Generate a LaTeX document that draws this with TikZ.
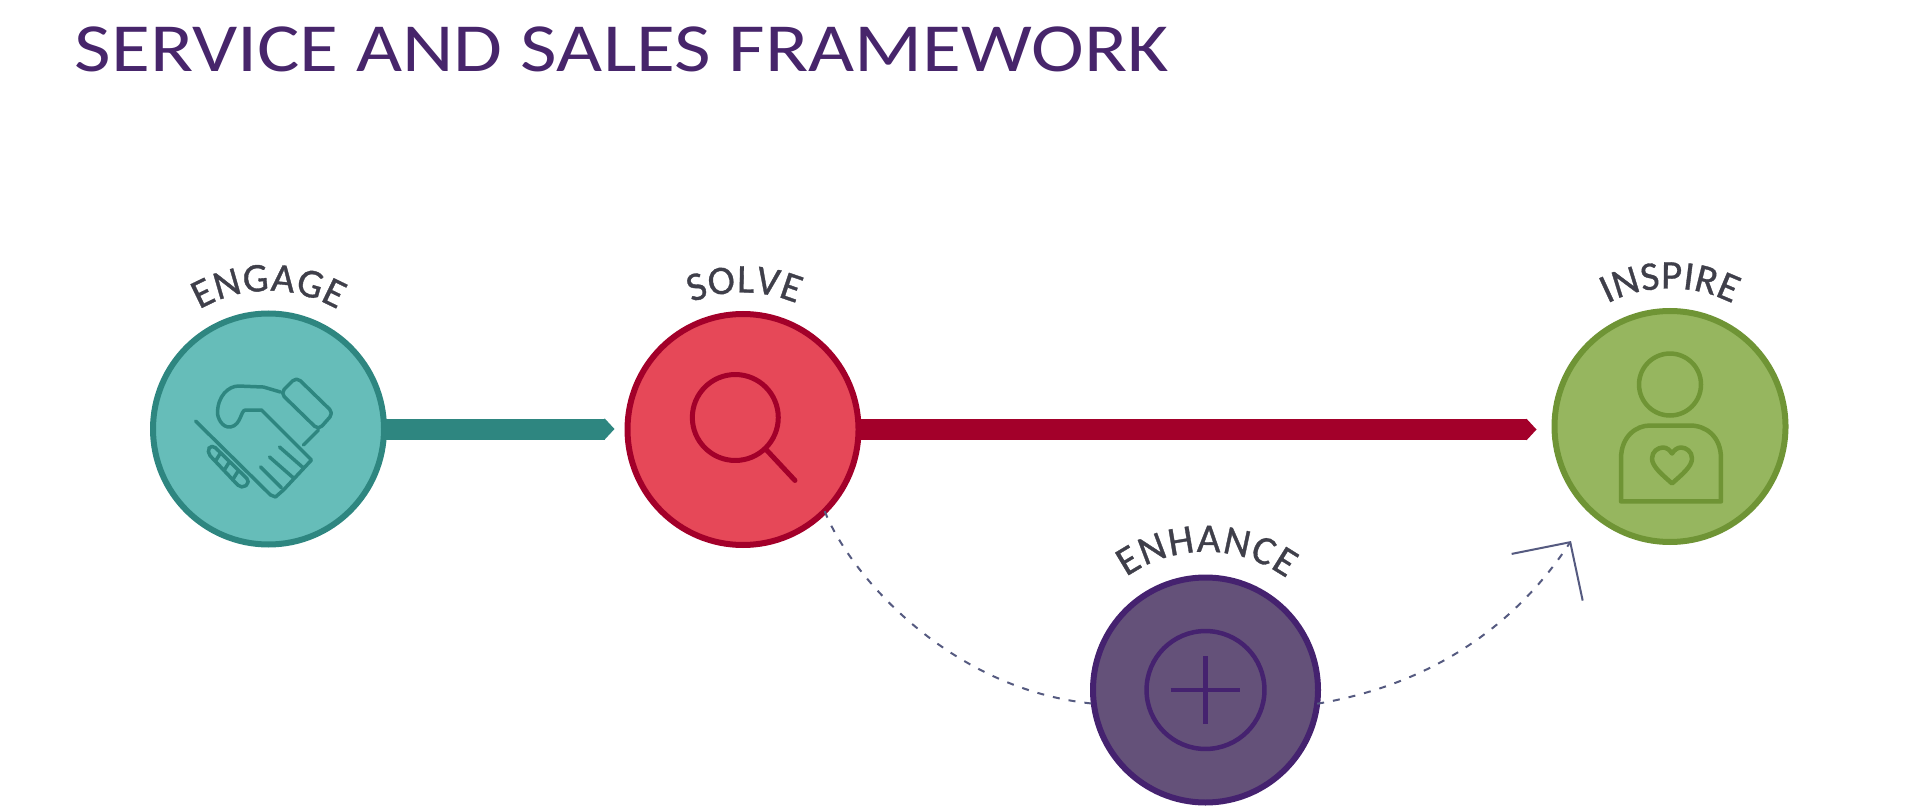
\documentclass[tikz,border=0pt]{standalone}
\usepackage{fontspec}
\setmainfont{Carlito}
\newfontfamily\arcfamily[FakeBold=0.8]{Carlito}
\usetikzlibrary{calc,arrows.meta,decorations.text}
\definecolor{engagefill}{HTML}{66BDB9}
\definecolor{engageline}{HTML}{2E8680}
\definecolor{solvefill}{HTML}{E64858}
\definecolor{solveline}{HTML}{A3002A}
\definecolor{inspirefill}{HTML}{96B65F}
\definecolor{inspireline}{HTML}{6F9435}
\definecolor{enhancefill}{HTML}{645179}
\definecolor{enhanceline}{HTML}{45226F}
\definecolor{titlecolor}{HTML}{47256B}
\definecolor{labelcolor}{HTML}{3F3F4A}
\definecolor{dashcolor}{HTML}{555A80}
\newcommand{\labelfont}{\arcfamily\fontsize{11.6}{13}\selectfont\color{labelcolor}}

\begin{document}
\begin{tikzpicture}[
  stage/.style={circle, inner sep=0pt, outer sep=0pt, line width=0.06cm, minimum size=2.31cm},
  icon/.style={line width=0.035cm, line join=round, line cap=round},
  bar/.style={line width=0.21cm, -{Triangle[length=1mm, width=0pt 1]}},
  flow/.style={line width=0.02cm, color=dashcolor, dash pattern=on 0.07cm off 0.09cm},
  arclabel/.style={decorate, decoration={text along path, text align={fit to path}, text={|\labelfont|#1}}}
]
\useasboundingbox (0,0) rectangle (19.2,8.05);

\node[anchor=base west, inner sep=0pt, text=titlecolor, font=\fontsize{19.6}{23}\selectfont] (title) at (0.74,7.33) {\scalebox{1.155}[1]{SERVICE AND SALES FRAMEWORK}};

\node[stage, fill=engagefill, draw=engageline] (engage) at (2.685,3.76) {};
\node[stage, fill=solvefill, draw=solveline] (solve) at (7.43,3.755) {};
\node[stage, fill=inspirefill, draw=inspireline] (inspire) at (16.70,3.785) {};
\node[stage, fill=enhancefill, draw=enhanceline, minimum size=2.25cm] (enhance) at (12.055,1.15) {};
\coordinate (tip) at (15.71,2.64);

\draw[bar, color=engageline, shorten >=0.13cm] (engage) -- (solve.west |- engage);
\draw[bar, color=solveline, shorten >=0.18cm] (solve) -- (inspire.west |- solve);

\draw[flow] (solve.-45) .. controls (8.50,2.30) and (9.50,1.15) .. (enhance.187);
\draw[flow, -{Straight Barb[length=4.2mm, width=8.5mm]}] (enhance.-7.5) .. controls (14.00,1.15) and (15.00,1.56) .. (tip);

\path[arclabel=ENGAGE] ($(engage)+(120:1.38)$) arc[start angle=120, end angle=60, radius=1.38];
\path[arclabel=SOLVE] ($(solve)+(112:1.37)$) arc[start angle=112, end angle=67, radius=1.37];
\path[arclabel=INSPIRE] ($(inspire)+(117:1.38)$) arc[start angle=117, end angle=63, radius=1.38];
\path[arclabel=ENHANCE] ($(enhance)+(125:1.38)$) arc[start angle=125, end angle=54, radius=1.38];

% handshake
\begin{scope}[shift={(engage)}, x=0.01cm, y=0.01cm, icon, color=engageline]
\draw (-73,8) -- (2,-66) -- (7,-68) -- (15,-61) -- (43,-31) -- (-7,19) -- (-23,19) .. controls (-28,19) and (-27,4) .. (-38,2) .. controls (-47,1) and (-51,12) .. (-51,16) .. controls (-51,33) and (-40,43) .. (-30,43) -- (-5,42) -- (12,37);
\draw[rounded corners=1.5pt] (12,36) -- (28,52) -- (65,16) -- (50,-1) -- cycle;
\draw (50,-1) -- (35,-16);
\draw (-8,-38) -- (13,-59);
\draw (1,-28) -- (25,-49);
\draw (11,-18) -- (35,-39);
\draw[rounded corners=1.5pt] (-57,-15) -- (-62,-23) -- (-27,-60) -- (-18,-53) -- cycle;
\draw (-48,-24) -- (-53,-32);
\draw (-39.5,-33.5) -- (-44.5,-41.5);
\draw (-31,-43) -- (-36,-51);
\end{scope}

% magnifier
\begin{scope}[shift={(solve)}, x=0.01cm, y=0.01cm, line width=0.05cm, line cap=round, color=solveline]
\draw (-7.7,12) circle[radius=43];
\draw (24,-21) -- (52,-51);
\end{scope}

% person with heart
\begin{scope}[shift={(inspire)}, x=0.01cm, y=0.01cm, line width=0.045cm, line join=round, color=inspireline]
\draw (0,42) circle[radius=31];
\draw (-49,-75) -- (-49,-32) .. controls (-49,-10) and (-34,1) .. (-20,1) -- (20,1) .. controls (36,1) and (51,-10) .. (51,-32) -- (51,-75) -- cycle;
\draw (2,-57) .. controls (-8,-48) and (-18,-40) .. (-18,-32) .. controls (-18,-25) and (-12,-21) .. (-7,-21) .. controls (-3,-21) and (0,-24) .. (2,-27) .. controls (4,-24) and (7,-21) .. (11,-21) .. controls (16,-21) and (22,-25) .. (22,-32) .. controls (22,-40) and (12,-48) .. (2,-57) -- cycle;
\end{scope}

% plus in ring
\begin{scope}[shift={(enhance)}, x=0.01cm, y=0.01cm, line width=0.045cm, color=enhanceline]
\draw (0,0) circle[radius=59];
\draw (-35,0) -- (35,0);
\draw (0,34) -- (0,-34);
\end{scope}
\end{tikzpicture}
\end{document}
